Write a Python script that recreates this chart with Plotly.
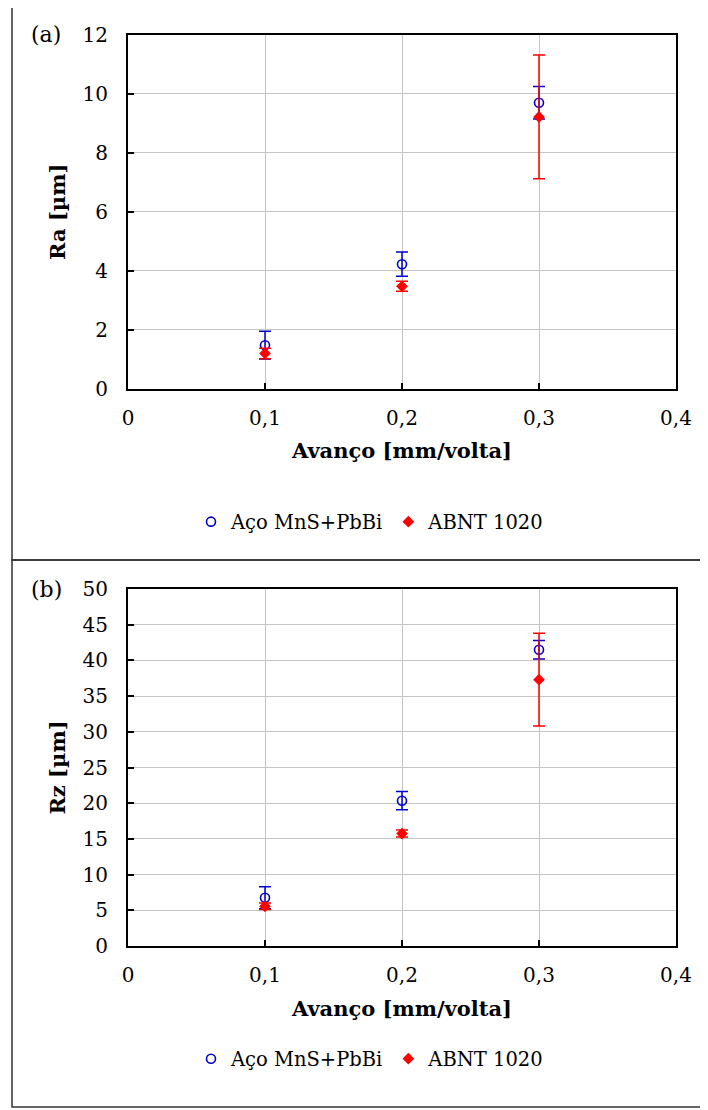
import plotly.graph_objects as go

# ---- data ----
feed = [0.1, 0.2, 0.3]
ra_mns = [1.47, 4.22, 9.70]
ra_mns_err = [0.47, 0.41, 0.55]
ra_1020 = [1.19, 3.47, 9.22]
ra_1020_err = [0.18, 0.17, 2.10]
rz_mns = [6.75, 20.35, 41.5]
rz_mns_err = [1.55, 1.28, 1.3]
rz_1020 = [5.56, 15.75, 37.3]
rz_1020_err = [0.46, 0.50, 6.5]
series_names = ["Aço MnS+PbBi", "ABNT 1020"]
panel_labels = ["(a)", "(b)"]
y_titles = ["Ra [µm]", "Rz [µm]"]
x_title = "Avanço [mm/volta]"

W, H = 708, 1110
OFF = 8  # page body margin
FONT = "DejaVu Serif"
BLUE = "#0000CC"
RED = "#FF0000"

def px_x(v):
    return (v - OFF) / W

def px_y(v):
    return 1 - (v - OFF) / H

fig = go.Figure()

def add_pair(ys1, e1, ys2, e2, xa, ya, legend):
    fig.add_trace(go.Scatter(
        x=feed, y=ys1, mode="markers", name=series_names[0],
        marker=dict(symbol="circle-open", size=9, color=BLUE, line=dict(width=1.6, color=BLUE)),
        error_y=dict(type="data", array=e1, visible=True, color=BLUE, thickness=1.5, width=6),
        xaxis=xa, yaxis=ya, legend=legend))
    fig.add_trace(go.Scatter(
        x=feed, y=ys2, mode="markers", name=series_names[1],
        marker=dict(symbol="diamond", size=9, color=RED),
        error_y=dict(type="data", array=e2, visible=True, color=RED, thickness=1.5, width=6),
        xaxis=xa, yaxis=ya, legend=legend))

add_pair(ra_mns, ra_mns_err, ra_1020, ra_1020_err, "x", "y", "legend")
add_pair(rz_mns, rz_mns_err, rz_1020, rz_1020_err, "x2", "y2", "legend2")

xdom = [px_x(128), px_x(676)]
axis_common = dict(
    showline=True, linecolor="black", linewidth=2, mirror=True,
    showgrid=True, gridcolor="#C4C4C4", gridwidth=1,
    ticks="inside", ticklen=6, tickcolor="black", tickwidth=1.5,
    tickfont=dict(family=FONT, size=20, color="black"),
    zeroline=False, automargin=False,
)

TITLE_FONT = dict(family=FONT, size=21, color="black")
xcommon = dict(axis_common, range=[0, 0.4], dtick=0.1, tick0=0, ticklabelstandoff=10,
               title=dict(text=f"<b>{x_title}</b>", font=TITLE_FONT, standoff=15))

LEG_FONT = dict(family=FONT, size=19.5, color="black")

fig.update_layout(
    width=W, height=H,
    margin=dict(l=0, r=0, t=0, b=0, autoexpand=False),
    paper_bgcolor="white", plot_bgcolor="white",
    separators=", ",
    font=dict(family=FONT, size=20, color="black"),
    xaxis=dict(xcommon, domain=xdom, anchor="y"),
    yaxis=dict(axis_common, domain=[px_y(388.5), px_y(35)], range=[0, 12], dtick=2, anchor="x",
               ticklabelstandoff=14,
               title=dict(text=f"<b>{y_titles[0]}</b>", font=TITLE_FONT, standoff=11)),
    xaxis2=dict(xcommon, domain=xdom, anchor="y2"),
    yaxis2=dict(axis_common, domain=[px_y(946), px_y(589)], range=[0, 50], dtick=5, anchor="x2",
                ticklabelstandoff=14,
                title=dict(text=f"<b>{y_titles[1]}</b>", font=TITLE_FONT, standoff=11)),
    legend=dict(orientation="h", x=px_x(370), xanchor="center", y=px_y(522), yanchor="middle",
                font=LEG_FONT, itemwidth=30, bgcolor="rgba(0,0,0,0)"),
    legend2=dict(orientation="h", x=px_x(370), xanchor="center", y=px_y(1059), yanchor="middle",
                 font=LEG_FONT, itemwidth=30, bgcolor="rgba(0,0,0,0)"),
    showlegend=True,
)

# outer panel boxes
for y0, y1 in [(5, 560), (560, 1107)]:
    fig.add_shape(type="rect", xref="paper", yref="paper",
                  x0=px_x(12), x1=px_x(707), y0=px_y(y1), y1=px_y(y0),
                  line=dict(color="#333333", width=1.5), fillcolor="rgba(0,0,0,0)", layer="below")

for lab, yc in zip(panel_labels, [35, 589]):
    fig.add_annotation(text=lab, xref="paper", yref="paper", x=px_x(46), y=px_y(yc),
                       xanchor="center", yanchor="middle", showarrow=False,
                       font=dict(family=FONT, size=22, color="black"))

fig.write_html("out.html")
